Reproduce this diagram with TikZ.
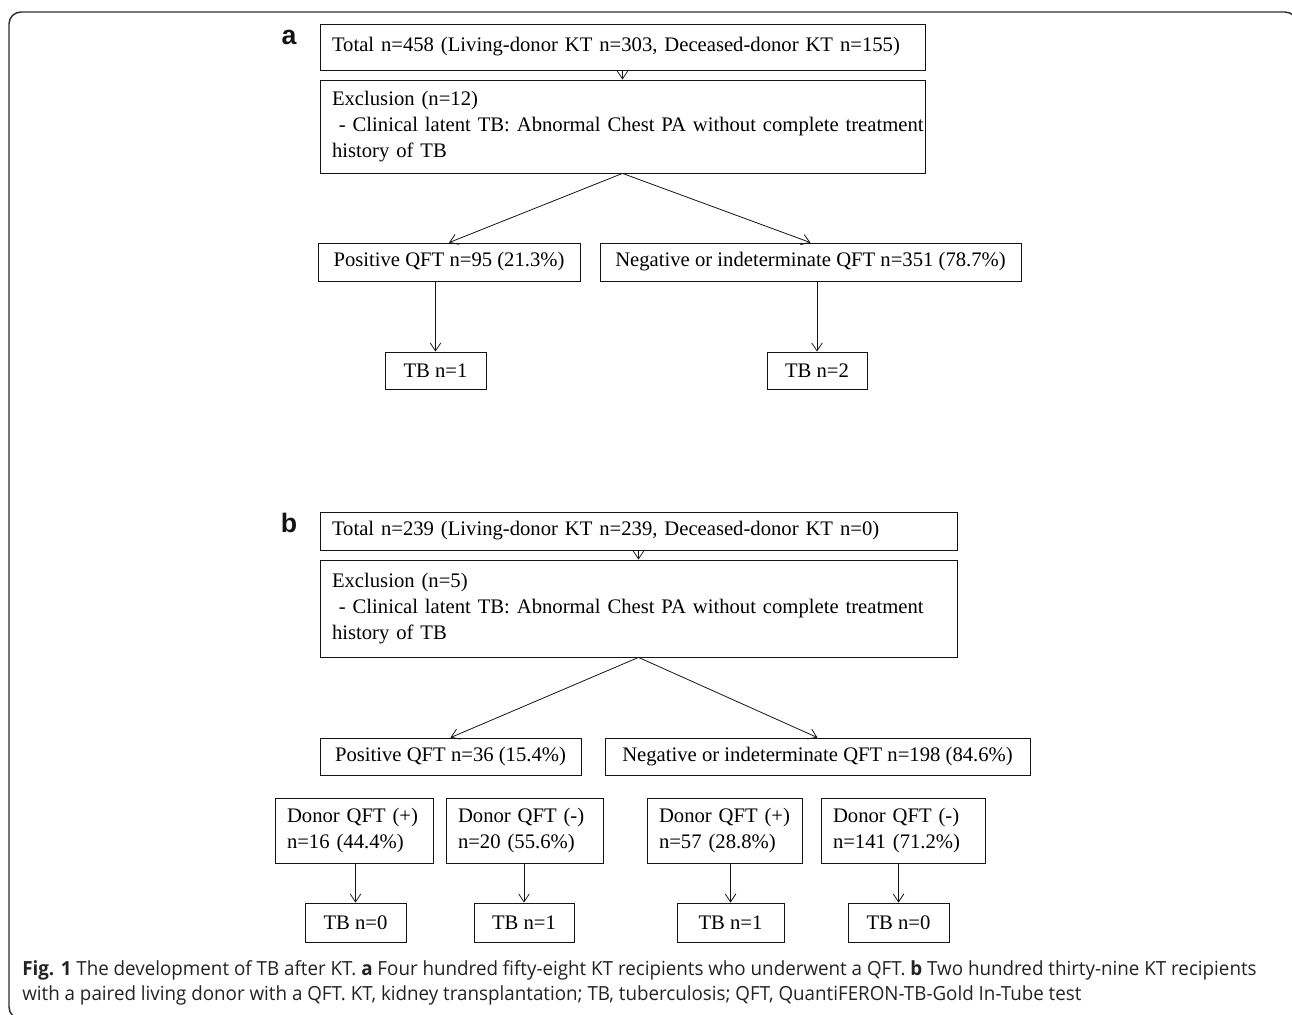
\documentclass[tikz,border=0pt]{standalone}
\usepackage{fontspec}
\setmainfont{Liberation Serif}
\newfontfamily\labelfont{Liberation Sans}
\newfontfamily\captionfont[FakeStretch=0.965]{Open Sans}
\usetikzlibrary{arrows.meta}
\definecolor{ink}{RGB}{20,20,20}
\definecolor{framegray}{RGB}{45,45,45}
\definecolor{captext}{RGB}{35,35,35}
\tikzset{
  box/.style={draw=ink,line width=0.6pt,inner xsep=0pt,inner ysep=0pt,align=center,
    font=\fontsize{15.5}{19.5}\selectfont},
  leftbox/.style={box,align=left,inner xsep=9pt},
  arrow/.style={-{Straight Barb[length=6pt,width=8pt]},line width=0.6pt,draw=ink},
  panel/.style={inner sep=0pt,text=ink,font=\labelfont\bfseries\fontsize{20}{24}\selectfont},
  framebox/.style={draw=framegray,line width=1.1pt,rounded corners=9pt},
  capnote/.style={inner sep=0pt,align=left,text=captext,
    font=\captionfont\fontsize{14.6}{19}\selectfont}
}
\begin{document}
\begin{tikzpicture}[x=0.75pt,y=-0.75pt]
  \useasboundingbox (0,0) rectangle (1292,1014);
  \clip (0,0) rectangle (1292,1014);
  \draw[framebox] (9,12) rectangle (1297,1019);

  % panel a
  \node[panel] (labA) at (289,37) {a};
  \node[leftbox,text width=435.75pt,minimum height=34.5pt] (totA) at (622.5,47)
    {Total n=458 (Living-donor KT n=303, Deceased-donor KT n=155)};
  \node[leftbox,text width=435.75pt,minimum height=69.75pt] (excA) at (622.5,126.5)
    {Exclusion (n=12)\\\mbox{\ - Clinical latent TB: Abnormal Chest PA without complete treatment}\\history of TB};
  \node[box,minimum width=196.5pt,minimum height=28.5pt] (posA) at (449,262)
    {Positive QFT n=95 (21.3\%)};
  \node[box,minimum width=315.75pt,minimum height=28.5pt] (negA) at (810.5,262)
    {Negative or indeterminate QFT n=351 (78.7\%)};
  \node[box,minimum width=75.75pt,minimum height=27.75pt] (tbA1) at (435.5,370.5) {TB n=1};
  \node[box,minimum width=75pt,minimum height=27.75pt] (tbA2) at (817,370.5) {TB n=2};

  \draw[arrow] (totA) -- (excA);
  \draw[arrow] (excA.south) -- (posA.north);
  \draw[arrow] (excA.south) -- (negA.north);
  \draw[arrow] (tbA1.north |- posA.south) -- (tbA1.north);
  \draw[arrow] (tbA2.north |- negA.south) -- (tbA2.north);

  % panel b
  \node[panel] (labB) at (289,523) {b};
  \node[leftbox,text width=459.75pt,minimum height=28.5pt] (totB) at (638.5,531)
    {Total n=239 (Living-donor KT n=239, Deceased-donor KT n=0)};
  \node[leftbox,text width=459.75pt,minimum height=72.75pt] (excB) at (638.5,608.5)
    {Exclusion (n=5)\\\mbox{\ - Clinical latent TB: Abnormal Chest PA without complete treatment}\\history of TB};
  \node[box,minimum width=195.75pt,minimum height=27.75pt] (posB) at (450.5,756.5)
    {Positive QFT n=36 (15.4\%)};
  \node[box,minimum width=318.75pt,minimum height=27.75pt] (negB) at (817.5,756.5)
    {Negative or indeterminate QFT n=198 (84.6\%)};

  \node[leftbox,text width=100.5pt,minimum height=48.75pt] (dnB1) at (354,830.5)
    {\mbox{Donor QFT (+)}\\n=16 (44.4\%)};
  \node[leftbox,text width=99.75pt,minimum height=48.75pt] (dnB2) at (524.5,830.5)
    {\mbox{Donor QFT (-)}\\n=20 (55.6\%)};
  \node[leftbox,text width=98.25pt,minimum height=48.75pt] (dnB3) at (724.5,830.5)
    {\mbox{Donor QFT (+)}\\n=57 (28.8\%)};
  \node[leftbox,text width=105pt,minimum height=48.75pt] (dnB4) at (903,830.5)
    {\mbox{Donor QFT (-)}\\n=141 (71.2\%)};

  \node[box,minimum width=75.75pt,minimum height=29.25pt] (tbB1) at (355.5,922.5) {TB n=0};
  \node[box,minimum width=75pt,minimum height=29.25pt] (tbB2) at (524,922.5) {TB n=1};
  \node[box,minimum width=80.25pt,minimum height=29.25pt] (tbB3) at (730.5,922.5) {TB n=1};
  \node[box,minimum width=75.75pt,minimum height=29.25pt] (tbB4) at (898.5,922.5) {TB n=0};

  \draw[arrow] (totB) -- (excB);
  \draw[arrow] (excB.south) -- (posB.north);
  \draw[arrow] (excB.south) -- (negB.north);
  \foreach \i in {1,...,4}
    \draw[arrow] (tbB\i.north |- dnB\i.south) -- (tbB\i.north);

  % caption
  \node[capnote,anchor=north west] (caption) at (22,960)
    {{\bfseries Fig. 1} The development of TB after KT. {\bfseries a} Four hundred fifty-eight KT recipients who underwent a QFT. {\bfseries b} Two hundred thirty-nine KT recipients\\
     with a paired living donor with a QFT. KT, kidney transplantation; TB, tuberculosis; QFT, QuantiFERON-TB-Gold In-Tube test};
\end{tikzpicture}
\end{document}
